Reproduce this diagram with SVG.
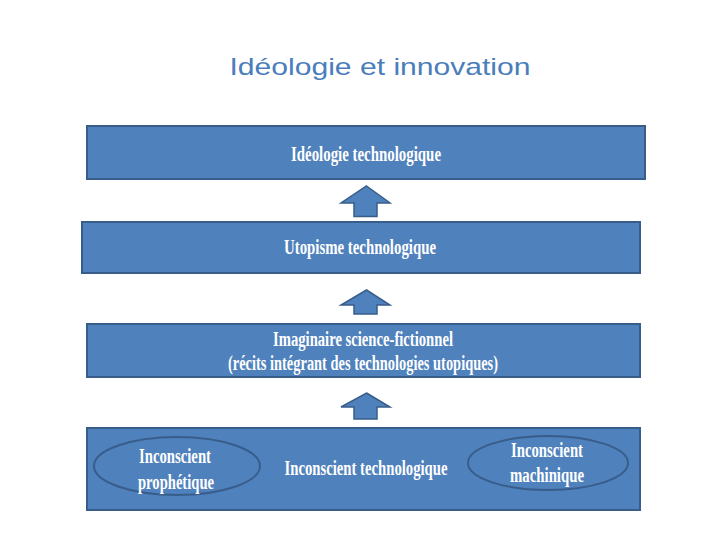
<svg xmlns="http://www.w3.org/2000/svg" width="720" height="540" viewBox="0 0 720 540">
<style>
.box{fill:#4F81BD;stroke:#385D8A;stroke-width:2}
.ell{fill:#4F81BD;stroke:#385D8A;stroke-width:2}
.arr{fill:#4F81BD;stroke:#385D8A;stroke-width:1.5;stroke-linejoin:miter}
.t{font-family:"Liberation Serif","DejaVu Serif",serif;font-size:20px;font-weight:bold;fill:#FFFFFF;text-anchor:middle}
.title{font-family:"Liberation Sans",Arial,sans-serif;font-size:24px;fill:#4A7EBB;text-anchor:middle}
</style>
<rect width="720" height="540" fill="#FFFFFF"/>
<text class="title" x="380" y="75" textLength="301" lengthAdjust="spacingAndGlyphs">Idéologie et innovation</text>
<g id="connectors">
<path class="arr" d="M366.5,186 L390,203 L377,203 L377,216.5 L354,216.5 L354,203 L341,203 Z"/>
<path class="arr" d="M366.5,290 L390,305 L377,305 L377,314 L354,314 L354,305 L341,305 Z"/>
<path class="arr" d="M366.5,393 L390,407 L377,407 L377,419 L354,419 L354,407 L341,407 Z"/>
</g>
<g id="node-ideologie">
<rect class="box" x="87" y="126" width="558" height="53"/>
<text class="t" x="366" y="161" textLength="150" lengthAdjust="spacingAndGlyphs">Idéologie technologique</text>
</g>
<g id="node-utopisme">
<rect class="box" x="82" y="222" width="558" height="51"/>
<text class="t" x="360" y="254" textLength="152" lengthAdjust="spacingAndGlyphs">Utopisme technologique</text>
</g>
<g id="node-imaginaire">
<rect class="box" x="87" y="324" width="553" height="53"/>
<text class="t" x="363" y="346" textLength="180" lengthAdjust="spacingAndGlyphs">Imaginaire science-fictionnel</text>
<text class="t" x="363" y="370" textLength="270" lengthAdjust="spacingAndGlyphs">(récits intégrant des technologies utopiques)</text>
</g>
<g id="node-inconscient">
<rect class="box" x="87" y="428" width="553" height="82"/>
<text class="t" x="366" y="475" textLength="163" lengthAdjust="spacingAndGlyphs">Inconscient technologique</text>
</g>
<g id="node-prophetique">
<ellipse class="ell" cx="177" cy="466" rx="83" ry="29"/>
<text class="t" x="175" y="463" textLength="72" lengthAdjust="spacingAndGlyphs">Inconscient</text>
<text class="t" x="176" y="489" textLength="76" lengthAdjust="spacingAndGlyphs">prophétique</text>
</g>
<g id="node-machinique">
<ellipse class="ell" cx="548" cy="463" rx="80" ry="27"/>
<text class="t" x="547" y="457" textLength="72" lengthAdjust="spacingAndGlyphs">Inconscient</text>
<text class="t" x="547" y="482" textLength="74" lengthAdjust="spacingAndGlyphs">machinique</text>
</g>
</svg>
